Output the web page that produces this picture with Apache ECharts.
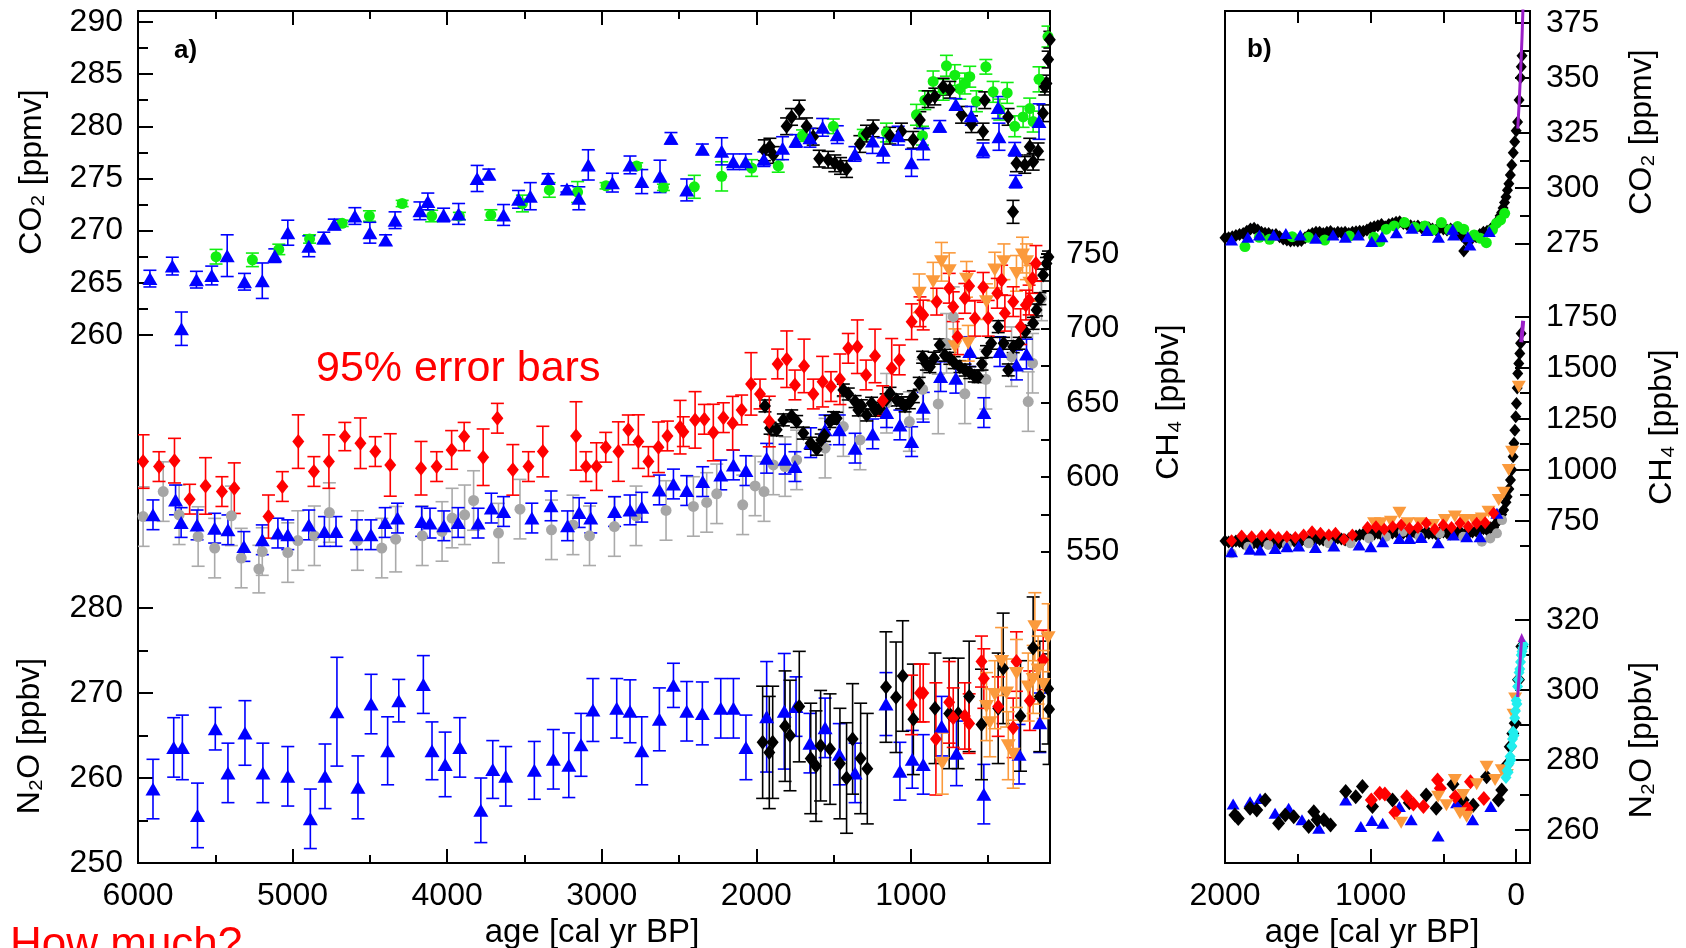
<!DOCTYPE html>
<html>
<head>
<meta charset="utf-8">
<title>CO2 CH4 N2O Holocene</title>
<script src="https://cdn.jsdelivr.net/npm/echarts@6/dist/echarts.min.js"></script>
<style>
  html, body { margin: 0; padding: 0; background: #fff; }
  #chart { width: 1686px; height: 948px; }
</style>
</head>
<body>
<div id="chart"></div>
<script>
// ---- tick labels ----
var xTicksA = [1000, 2000, 3000, 4000, 5000, 6000];
var xMinorA = [500, 1500, 2500, 3500, 4500, 5500];
var xTicksB = [0, 1000, 2000];
var xMinorB = [500, 1500];
var co2aTicks = [260, 265, 270, 275, 280, 285, 290];
var co2aMinor = [262.5, 267.5, 272.5, 277.5, 282.5, 287.5];
var ch4aTicks = [550, 600, 650, 700, 750];
var ch4aMinor = [575, 625, 675, 725];
var n2oaTicks = [250, 260, 270, 280];
var n2oaMinor = [255, 265, 275];
var co2bTicks = [275, 300, 325, 350, 375];
var co2bMinor = [287.5, 312.5, 337.5, 362.5];
var ch4bTicks = [750, 1000, 1250, 1500, 1750];
var ch4bMinor = [625, 875, 1125, 1375, 1625];
var n2obTicks = [260, 280, 300, 320];
var n2obMinor = [270, 290, 310];

// ---- panel a: [age, value, error] ----
var co2aGreen = [[5495,267.5,0.7],[5260,267.2,0.65],[5089,268.2,0.5],[4890,269.2,0.4],[4679,270.7,0.3],[4503,271.4,0.5],[4291,272.6,0.3],[4100,271.4,0.55],[3921,271.4,0.35],[3717,271.5,0.5],[3513,272.6,0.8],[3339,273.9,0.7],[3156,273.7,1.0],[2972,274.3,0.3],[2774,276.2,0.3],[2601,274.15,0.3],[2401,274.2,1.1],[2224,275.2,1.4],[2030,276.0,0.8],[1858,276.2,0.6],[1701,279.1,0.55],[1502,280.0,0.7],[1308,279.2,0.5],[1158,279.4,0.9],[964,281.1,1.0],[925,279.1,0.9],[910,282.5,0.9],[856,284.3,1.0],[791,283.5,1.0],[770,285.8,1.0],[716,284.9,1.0],[684,283.6,1.0],[651,284.1,1.0],[619,284.75,1.0],[576,282.4,1.0],[515,285.7,0.7],[468,283.3,1.0],[425,281.6,1.0],[377,283.2,1.0],[328,280.0,1.0],[274,280.9,1.0],[231,281.7,1.0],[209,280.45,1.0],[171,284.5,1.2],[113,288.6,1.0]];
var co2aBlack = [[1948,277.7,1.0],[1912,278.05,0.8],[1890,277.25,0.8],[1804,280.0,0.8],[1772,280.9,0.8],[1722,281.6,0.9],[1675,280.0,0.8],[1632,279.0,0.8],[1593,276.9,0.8],[1535,276.8,0.8],[1492,276.45,0.8],[1455,276.2,0.8],[1416,275.9,0.8],[1330,278.3,0.8],[1287,279.3,0.8],[1244,279.8,0.8],[1136,279.1,0.8],[1061,279.5,0.8],[985,278.7,0.8],[942,280.6,0.8],[888,282.6,0.8],[845,282.85,0.8],[791,283.8,0.8],[748,283.5,0.8],[672,281.1,0.8],[608,280.2,0.8],[522,282.5,0.8],[533,279.5,0.8],[371,280.9,0.8],[339,271.8,1.1],[317,276.45,0.8],[263,276.3,0.8],[231,278.05,0.8],[209,276.6,0.8],[177,277.6,0.8],[145,281.25,0.8],[134,283.8,0.8],[123,284.1,0.8],[112,286.4,0.8],[101,288.3,0.8]];
var co2aBlue = [[5923,265.4,0.8],[5778,266.6,0.85],[5719,260.6,1.6],[5622,265.3,0.8],[5523,265.7,0.9],[5423,267.6,2.0],[5311,265.1,0.8],[5196,265.2,1.7],[5115,267.6,0.65],[5031,269.8,1.2],[4895,268.5,1.0],[4798,269.3,0.55],[4730,270.6,0.5],[4597,271.4,0.8],[4500,269.8,1.0],[4398,269.1,0.5],[4337,271.0,0.8],[4176,271.9,0.85],[4125,272.8,0.8],[4023,271.5,0.65],[3926,271.6,1.0],[3806,275.0,1.25],[3730,275.4,0.5],[3635,271.5,1.0],[3538,273.0,0.85],[3462,273.3,1.3],[3347,275.0,0.45],[3225,274.0,0.3],[3148,273.1,1.1],[3087,276.3,1.45],[2931,274.6,0.9],[2817,276.3,0.85],[2741,274.7,1.15],[2623,275.2,1.55],[2552,278.85,0.55],[2450,273.9,1.05],[2349,277.8,0.5],[2224,277.6,1.3],[2149,276.6,0.75],[2069,276.6,0.75],[1951,276.85,0.7],[1830,277.9,1.1],[1744,278.6,0.6],[1653,278.9,0.9],[1571,279.9,0.85],[1476,279.2,0.85],[1362,277.35,0.7],[1248,278.6,1.2],[1179,277.7,1.2],[1082,279.1,0.9],[996,276.5,1.3],[920,278.3,1.5],[813,280.0,0.55],[709,282.1,0.55],[609,281.0,0.9],[533,277.7,0.7],[436,281.8,1.05],[430,279.0,1.3],[328,277.8,0.65],[322,274.7,0.6],[171,280.45,1.7]];

var ch4aGrey = [[5967,573.5,20],[5837,590.3,20],[5734,574.7,20],[5611,560.1,20],[5504,552.3,20],[5396,574.0,20],[5332,545.6,20],[5218,538.2,16],[5196,550.0,16],[5031,549.3,20],[4966,557.4,20],[4859,560.6,20],[4762,576.2,20],[4580,557.4,20],[4423,552.3,20],[4333,558.3,22],[4161,560.6,20],[4033,563.5,20],[3968,572.5,20],[3887,574.7,20],[3829,584.3,20],[3668,562.4,20],[3529,578.5,20],[3325,564.6,20],[3186,567.9,20],[3079,560.6,20],[2918,566.8,20],[2778,574.0,20],[2584,577.6,20],[2407,580.3,20],[2321,583.0,20],[2256,588.8,20],[2088,581.4,20],[2008,594.1,20],[1950,590.3,20],[1890,608.2,20],[1814,607.1,20],[1739,611.6,20],[1555,619.5,20],[1437,634.0,20],[1329,625.0,20],[1157,649.7,20],[1010,637.4,20],[924,659.1,20],[823,649.2,20],[769,690.0,20],[726,707.9,20],[651,656.0,20],[515,665.8,20],[349,681.0,20],[241,650.8,20],[213,676.6,20],[155,720.2,15]];
var ch4aBlue = [[5903,574.7,10],[5757,584.7,10],[5721,569.5,10],[5618,567.9,10],[5504,565.7,10],[5418,564.6,10],[5315,553.4,10],[5196,557.9,10],[5095,562.4,10],[5031,561.3,10],[4895,567.9,10],[4794,563.5,10],[4719,563.5,10],[4586,561.3,10],[4493,561.3,10],[4401,569.5,10],[4321,572.5,10],[4165,570.2,10],[4111,569.1,10],[4021,567.3,10],[3929,569.5,10],[3800,569.1,10],[3714,579.2,10],[3635,576.9,10],[3452,572.5,10],[3328,580.7,10],[3221,567.3,10],[3146,576.2,10],[3071,572.5,10],[2917,576.9,10],[2817,578.0,10],[2741,579.8,10],[2627,591.4,10],[2536,595.4,10],[2450,591.0,10],[2347,597.0,10],[2230,601.5,10],[2148,608.2,10],[2067,604.4,10],[1933,612.7,10],[1814,612.1,10],[1750,607.1,10],[1648,623.2,10],[1555,631.8,10],[1463,631.8,10],[1361,619.5,10],[1247,629.1,10],[1157,643.4,10],[1071,635.1,10],[995,623.9,10],[920,647.0,10],[808,667.6,10],[709,666.5,10],[619,684.4,10],[528,643.4,10],[424,684.4,10],[317,675.4,10],[252,682.8,10]];
var ch4aBlack = [[1944,647.9,4],[1911,632.9,4],[1868,631.8,4],[1825,638.5,4],[1771,641.2,4],[1739,637.4,4],[1696,629.6,4],[1648,622.8,4],[1609,618.8,4],[1580,625,4],[1560,628,4],[1523,637.4,4],[1500,640,4],[1480,639.6,4],[1437,658.6,4],[1405,655.9,4],[1361,650.8,4],[1340,645.2,4],[1320,648,4],[1286,641.8,4],[1254,649.7,4],[1230,645,4],[1200,646.3,4],[1160,652,4],[1135,656.4,4],[1092,651.9,4],[1060,650,4],[1038,647.9,4],[1010,650,4],[984,654.1,4],[946,663.1,4],[924,680.6,4],[900,676,4],[877,674.3,4],[850,680,4],[813,688.9,4],[780,682,4],[748,679.9,4],[720,677,4],[683,674.3,4],[650,672,4],[619,670.3,4],[590,668,4],[565,667.6,4],[540,676,4],[511,684.4,4],[480,690,4],[435,701.2,4],[400,690,4],[370,672.1,4],[338,687.7,4],[300,690,4],[260,698,4],[209,703.4,4],[187,712.4,4],[165,720,4],[144,735.9,4],[123,743.7,4],[110,748,4]];
var ch4aOrange = [[946,723.6,13],[856,731.4,13],[802,744.8,13],[752,738.8,12],[715,687.7,12],[640,733.0,12],[629,690.0,12],[511,718.0,12],[457,739.2,12],[398,744.8,12],[317,737.0,12],[278,749.3,12],[252,744.8,12],[230,730.3,12]];
var ch4aRed = [[5967,610.5,18],[5864,607.1,10],[5764,611.1,15],[5666,585.2,10],[5563,594.1,19],[5457,590.3,10],[5377,592.6,17],[5156,573.5,14.5],[5066,593.7,10],[4963,623.9,18],[4862,603.8,10],[4765,610.5,18],[4662,627.3,9.5],[4561,622.8,17],[4465,617.2,10],[4368,608.2,21],[4169,606.0,18],[4068,607.1,10],[3971,618.3,13],[3890,627.3,9.5],[3767,613.4,19],[3675,639.6,10],[3575,604.9,17],[3474,607.1,10],[3381,617.2,17],[3166,627.7,23],[3102,607.1,10],[3034,607.1,16],[2974,620.1,10],[2892,617.2,20],[2828,631.8,10],[2763,623.9,18],[2698,610.5,10],[2633,620.1,17],[2575,627.7,10],[2493,633.6,18],[2472,630.6,10],[2396,638.5,19],[2336,638.9,10],[2278,630.0,19],[2213,640.0,10],[2153,636.3,18],[2095,645.2,10],[2034,662.7,21],[1976,655.9,10],[1916,637.4,17],[1862,676.1,10],[1803,679.3,19],[1750,662.0,10],[1691,674.8,18],[1631,655.9,10],[1571,664.2,17],[1517,660.9,10],[1459,665.8,17],[1405,686.6,10],[1346,687.7,18],[1290,668.7,10],[1232,681.5,18],[1182,651.4,10],[1124,673.2,20],[1075,678.8,10],[995,704.5,12],[941,711.2,10],[920,709.0,10],[833,718.0,9],[752,727.0,10],[726,714.6,10],[698,694.4,12],[651,720.2,10],[623,728.5,10],[586,706.8,12],[532,727.6,10],[500,706.8,12],[441,723.6,10],[413,732.5,10],[392,710.2,12],[338,718.0,10],[290,701.2,12],[256,715.7,10],[235,719.1,10],[213,733.6,10],[191,743.7,12]];

var n2oaBlue = [[5903,258.7,3.5],[5769,263.6,3.5],[5713,263.6,3.8],[5615,255.6,3.8],[5500,265.8,2.5],[5418,260.6,3.5],[5308,265.3,3.8],[5192,260.6,3.5],[5031,260.2,3.5],[4885,255.2,3.5],[4790,260.2,3.8],[4713,267.8,6.4],[4577,258.9,3.7],[4492,268.7,3.5],[4385,263.2,4],[4313,269.1,2.5],[4154,271.0,3.4],[4098,263.2,3.4],[4013,261.6,3.8],[3918,263.6,3.5],[3782,256.2,3.8],[3705,261.0,3.4],[3621,260.2,3.5],[3436,260.9,3.4],[3313,262.2,3.5],[3213,261.5,3.8],[3134,263.9,3.7],[3057,268.0,3.7],[2903,268.2,3.5],[2817,267.85,3.7],[2741,263.2,4],[2627,266.9,3.7],[2536,270.9,2.6],[2450,267.85,3.5],[2349,267.6,3.7],[2230,268.2,3.5],[2148,268.2,3.5],[2067,263.6,3.8],[1933,267.2,6.5],[1819,267.85,6.8],[1743,268.4,3.5],[1653,264.1,3.5],[1555,265.9,3.5],[1463,262.8,3.6],[1361,260.6,3.5],[1161,268.7,3.7],[1071,260.8,3.4],[991,262.2,3.4],[920,261.6,3.5],[801,266.1,3.5],[705,262.9,3.8],[528,258.1,3.5],[300,262.8,3.5],[166,266.5,3.5]];
var n2oaBlack = [[1959,264.2,6.6],[1916,263.0,6.6],[1894,264.2,6.6],[1814,266.1,6.5],[1782,265.0,6.5],[1722,268.4,6.5],[1648,262.3,6.5],[1614,261.4,6.5],[1584,263.8,6.5],[1523,263.4,6.5],[1459,261.7,6.5],[1416,260.0,6.5],[1377,264.6,6.5],[1325,262.3,6.5],[1282,261.1,6.5],[1161,270.7,6.5],[1096,269.5,6.5],[1053,272.0,6.5],[984,266.9,6.5],[844,268.2,6.5],[752,267.6,6.5],[694,267.6,6.5],[623,269.6,6.5],[543,266.3,6.5],[435,268.2,6.5],[403,272.9,6.5],[291,267.3,6.5],[209,275.3,6],[166,269.6,6.5],[112,270.5,6.5],[106,268.1,6.5]];
var n2oaRed = [[995,268.6,3.5],[941,270.0,3.4],[920,270.0,3.4],[838,264.6,6.6],[752,268.9,4.8],[726,267.1,3.5],[651,267.3,3.9],[623,266.4,3.5],[543,273.7,3],[528,271.7,3.5],[435,268.4,3.5],[338,265.9,3.5],[317,273.7,3.5],[231,269.1,3.5],[144,273.9,3.5]];
var n2oaOrange = [[797,261.7,3.6],[511,268.4,4],[489,266.5,4],[457,269.8,4],[413,273.7,4],[381,270.0,4],[370,263.8,4],[338,262.8,4],[317,272.3,4],[241,270.7,4],[209,271.6,4],[198,277.8,4],[177,272.7,4],[144,271.0,4],[112,276.5,4]];

// ---- panel b: [age, value] ----
var co2bBlack = [[2000,277.5],[1975,277.5],[1950,278],[1925,278.5],[1900,279],[1875,279.5],[1850,280.5],[1825,281.5],[1800,281.8],[1775,281],[1750,280],[1725,279.6],[1700,279.5],[1675,278.8],[1650,279],[1625,278],[1600,277],[1575,276.5],[1550,276],[1525,276.3],[1500,276],[1475,276.3],[1450,277.5],[1425,278.8],[1400,279.5],[1375,280],[1350,280],[1325,279.5],[1300,280],[1275,280.3],[1250,279.5],[1225,280],[1200,279.8],[1175,280],[1150,279.5],[1125,280],[1100,280.2],[1075,280.5],[1050,280.5],[1025,281],[1000,282],[975,282.5],[950,283],[925,283.5],[900,282.5],[875,283.5],[850,284],[825,284.5],[800,284.8],[775,284],[750,283.5],[725,283],[700,282.5],[675,282.8],[650,282],[625,281.5],[600,282],[575,281.5],[550,281],[525,282],[500,281.5],[475,281],[450,281.5],[425,280.5],[400,279.5],[375,278.5],[360,271.5],[340,276],[325,277],[300,277.5],[275,278],[250,279],[225,280],[200,280.5],[175,281.5],[150,283],[130,285],[110,287.5],[100,289],[90,291],[80,293.5],[70,296],[60,299],[50,302],[40,306],[30,310.5],[20,316],[10,321],[0,326],[-10,330],[-20,340],[-30,350],[-35,355],[-40,360]];
var co2bGreen = [[1863,273.5],[1764,277.7],[1694,276.8],[1539,278.0],[1427,277.7],[1315,276.5],[1146,278.3],[978,277.7],[936,275.8],[893,281.4],[837,282.9],[767,284.4],[697,282.3],[627,282.9],[570,281.1],[514,284.4],[458,281.1],[402,282.6],[360,281.4],[289,278.8],[247,277.3],[205,275.3],[163,281.1],[135,284.1],[107,285.6],[79,288.6]];
var co2bBlue = [[1955,276.5],[1843,277.7],[1764,278.8],[1666,278.8],[1582,279.5],[1483,278.8],[1377,277.3],[1258,278.8],[1174,277.7],[1084,278.8],[992,275.8],[922,278.0],[823,279.8],[716,281.8],[612,280.8],[534,277.7],[436,281.4],[430,278.8],[332,278.0],[318,274.2],[185,280.3]];
var co2bPurple = [[-11,327],[-20,338],[-30,352],[-40,368],[-48,384]];

var ch4bBlack = [[2000,650],[1975,645],[1950,645],[1925,650],[1900,648],[1875,640],[1850,645],[1825,650],[1800,642],[1775,640],[1750,645],[1725,650],[1700,648],[1675,645],[1650,642],[1625,640],[1600,645],[1575,650],[1550,655],[1525,650],[1500,648],[1475,652],[1450,655],[1425,650],[1400,655],[1375,660],[1350,658],[1325,655],[1300,660],[1275,662],[1250,660],[1225,665],[1200,660],[1175,655],[1150,662],[1125,665],[1100,675],[1075,680],[1050,685],[1025,690],[1000,690],[975,685],[950,690],[925,680],[900,690],[875,695],[850,690],[825,695],[800,700],[775,690],[750,695],[725,690],[700,695],[675,690],[650,685],[625,690],[600,688],[575,690],[550,685],[525,690],[500,695],[475,690],[450,685],[425,690],[400,695],[375,690],[350,685],[325,690],[300,695],[275,700],[250,705],[225,710],[200,705],[175,715],[155,717],[140,735],[120,753],[100,780],[86,802],[70,840],[62,868],[50,905],[39,949],[30,1000],[21,1064],[15,1130],[9,1194],[3,1260],[-2,1325],[-7,1400],[-11,1472],[-18,1520],[-25,1570],[-30,1620],[-34,1668]];
var ch4bGrey = [[1955,590],[1840,622.5],[1702,630.7],[1575,630.7],[1425,639],[1287,639],[1137,639],[1010,663],[894,671.6],[779,696],[664,671.6],[525,688],[363,671.6],[236,647],[178,663],[132,688],[97,753]];
var ch4bBlue = [[1955,598],[1829,609.5],[1759,606],[1656,614],[1575,622.5],[1494,626],[1379,619],[1252,626],[1079,630.7],[998,622.5],[917,647],[802,663],[733,663],[652,668],[536,642],[432,680],[340,671.6],[248,671.6],[132,786]];
var ch4bOrange = [[976,737],[929,737],[860,745],[802,789],[745,737],[664,737],[571,728.8],[490,753],[421,770],[352,753],[294,753],[236,761],[190,794],[120,851],[86,887],[51,998],[28,1088],[-18,1407]];
var ch4bRed = [[2001,658.5],[1955,652],[1886,675],[1817,671.6],[1748,675],[1690,680],[1633,668],[1575,671.6],[1517,668],[1460,680],[1402,696],[1344,688],[1287,680],[1241,688],[1183,658.5],[1125,680],[1021,717],[963,720.6],[906,707.5],[848,720.6],[790,728.8],[733,712],[675,717],[617,737],[559,707.5],[502,728.8],[444,717],[386,737],[329,720.6],[271,737],[213,740],[155,786]];
var ch4bPurple = [[-35,1625],[-42,1680],[-48,1730]];

var n2obBlack = [[1932,264.3],[1909,263.3],[1828,266.2],[1782,265.7],[1724,268.6],[1632,261.9],[1586,264.3],[1528,263.8],[1425,261.0],[1390,265.2],[1367,262.9],[1321,262.9],[1275,261.4],[1171,271.0],[1102,269.5],[1056,272.4],[987,266.7],[849,268.6],[734,267.8],[618,270.0],[549,266.2],[434,273.1],[364,268.6],[295,267.1],[203,275.2],[122,268.6],[99,271.4],[64,278.6],[41,283.8],[23,287.6],[7,290.5],[-16,302.9],[-39,312.4]];
var n2obBlue = [[1944,267.4],[1828,268.1],[1759,269.0],[1656,264.8],[1563,266.2],[1471,262.9],[1356,260.5],[1171,268.6],[1067,261.0],[991,262.7],[917,261.9],[802,266.7],[721,262.9],[536,258.3],[409,267.8],[299,262.9],[174,266.7]];
var n2obRed = [[995,268.6],[937,270.5],[902,270.3],[833,265.0],[752,269.5],[706,267.4],[637,266.7],[540,274.3],[521,271.9],[418,269.5],[337,266.2],[314,273.8],[222,269.0]];
var n2obOrange = [[790,262.1],[536,269.5],[479,267.1],[421,274.3],[386,264.8],[363,270.0],[340,263.8],[271,273.1],[203,278.1],[145,274.3],[99,277.1],[64,275.7],[18,292.9],[7,297.6]];
var n2obCyan = [[70,275],[62,277],[55,276.5],[48,279],[42,281],[36,280],[30,284],[25,286],[20,288],[15,287],[10,292],[5,294],[0,297],[-5,296],[-10,301],[-15,303],[-20,305],[-25,306],[-30,308],[-35,310],[-40,311],[-45,312],[-50,313]];
var n2obPurple = [[-10,298],[-20,304],[-30,310],[-38,315]];

var FONT = '"Liberation Sans", Arial, sans-serif';
var chart = echarts.init(document.getElementById('chart'));

function fmt(v) { return String(v); }

// x axis: major labelled ticks or unlabelled minor ticks
function xAx(grid, min, max, ticks, len, pos, labels) {
    return {
        type: 'value', gridIndex: grid, min: min, max: max, inverse: true, position: pos,
        axisLine: { show: false, onZero: false },
        splitLine: { show: false },
        axisTick: { show: true, inside: true, length: len, customValues: ticks, lineStyle: { color: '#000', width: 2 } },
        axisLabel: { show: labels, customValues: ticks, margin: 17, fontSize: 32, color: '#000', fontFamily: FONT, formatter: fmt }
    };
}
function yAx(grid, min, max, ticks, len, pos, labels, margin) {
    return {
        type: 'value', gridIndex: grid, min: min, max: max, position: pos,
        axisLine: { show: false, onZero: false },
        splitLine: { show: false },
        axisTick: { show: true, inside: true, length: len, customValues: ticks, lineStyle: { color: '#000', width: 2 } },
        axisLabel: { show: labels, customValues: ticks, margin: margin, fontSize: 32, color: '#000', fontFamily: FONT, formatter: fmt }
    };
}

var xAxes = [
    xAx(0, 100, 6000, xTicksA, 14, 'bottom', true),
    xAx(0, 100, 6000, xMinorA, 8, 'bottom', false),
    xAx(0, 100, 6000, xTicksA, 14, 'top', false),
    xAx(0, 100, 6000, xMinorA, 8, 'top', false),
    xAx(1, -95, 2000, xTicksB, 14, 'bottom', true),
    xAx(1, -95, 2000, xMinorB, 9, 'bottom', false),
    xAx(1, -95, 2000, xTicksB.concat(xMinorB), 12, 'top', false)
];
var yAxes = [
    yAx(0, 209.39, 291.05, co2aTicks, 15, 'left', true, 15),
    yAx(0, 209.39, 291.05, co2aMinor, 10, 'left', false, 15),
    yAx(0, 340.6, 913.4, ch4aTicks, 9, 'right', true, 16),
    yAx(0, 340.6, 913.4, ch4aMinor, 9, 'right', false, 16),
    yAx(0, 250, 350.24, n2oaTicks, 15, 'left', true, 15),
    yAx(0, 250, 350.24, n2oaMinor, 10, 'left', false, 15),
    yAx(1, -5.9, 380.3, co2bTicks, 15, 'right', true, 16),
    yAx(1, -5.9, 380.3, co2bMinor, 10, 'right', false, 16),
    yAx(1, -927.9, 3248.5, ch4bTicks, 15, 'right', true, 16),
    yAx(1, -927.9, 3248.5, ch4bMinor, 10, 'right', false, 16),
    yAx(1, 250.57, 494, n2obTicks, 15, 'right', true, 16),
    yAx(1, 250.57, 494, n2obMinor, 10, 'right', false, 16)
];

var series = [];
function errBars(data, xi, yi, color) {
    series.push({
        type: 'custom', xAxisIndex: xi, yAxisIndex: yi, clip: true, silent: true, z: 2,
        data: data,
        encode: { x: 0, y: 1 },
        renderItem: function (params, api) {
            var x = api.value(0), y = api.value(1), e = api.value(2);
            var t = api.coord([x, y + e]), b = api.coord([x, y - e]);
            var w = 6.5, st = { stroke: color, lineWidth: 1.6 };
            return {
                type: 'group', children: [
                    { type: 'line', shape: { x1: t[0], y1: t[1], x2: b[0], y2: b[1] }, style: st },
                    { type: 'line', shape: { x1: t[0] - w, y1: t[1], x2: t[0] + w, y2: t[1] }, style: st },
                    { type: 'line', shape: { x1: b[0] - w, y1: b[1], x2: b[0] + w, y2: b[1] }, style: st }
                ]
            };
        }
    });
}
function points(data, xi, yi, color, symbol, size, rot) {
    series.push({
        type: 'scatter', xAxisIndex: xi, yAxisIndex: yi, data: data, z: 3,
        symbol: symbol, symbolSize: size, symbolRotate: rot || 0,
        itemStyle: { color: color, opacity: 1 }, silent: true
    });
}

var BLUE = '#0000ff', GREEN = '#11ee11', BLACK = '#000000', RED = '#ff0000',
    GREY = '#a6a6a6', ORANGE = '#fb9a3c', CYAN = '#22eeee', PURPLE = '#9b1fc8';
var TRI = [15, 13], DIA = [12, 15], DTRI = [15, 13];

// panel a CO2
errBars(co2aGreen, 0, 0, GREEN);  points(co2aGreen, 0, 0, GREEN, 'circle', 11);
errBars(co2aBlack, 0, 0, BLACK);  points(co2aBlack, 0, 0, BLACK, 'diamond', DIA);
errBars(co2aBlue, 0, 0, BLUE);    points(co2aBlue, 0, 0, BLUE, 'triangle', TRI);
// panel a CH4
errBars(ch4aGrey, 0, 2, '#aaaaaa'); points(ch4aGrey, 0, 2, GREY, 'circle', 11);
errBars(ch4aBlue, 0, 2, BLUE);    points(ch4aBlue, 0, 2, BLUE, 'triangle', TRI);
errBars(ch4aBlack, 0, 2, BLACK);  points(ch4aBlack, 0, 2, BLACK, 'diamond', DIA);
errBars(ch4aOrange, 0, 2, ORANGE); points(ch4aOrange, 0, 2, ORANGE, 'triangle', DTRI, 180);
errBars(ch4aRed, 0, 2, RED);      points(ch4aRed, 0, 2, RED, 'diamond', DIA);
// panel a N2O
errBars(n2oaBlue, 0, 4, BLUE);    points(n2oaBlue, 0, 4, BLUE, 'triangle', TRI);
errBars(n2oaBlack, 0, 4, BLACK);  points(n2oaBlack, 0, 4, BLACK, 'diamond', DIA);
errBars(n2oaRed, 0, 4, RED);      points(n2oaRed, 0, 4, RED, 'diamond', DIA);
errBars(n2oaOrange, 0, 4, ORANGE); points(n2oaOrange, 0, 4, ORANGE, 'triangle', DTRI, 180);

// panel b
var TRIb = [13, 11], DIAb = [11, 13], DIAn = [13, 15];
points(co2bBlack, 4, 6, BLACK, 'diamond', DIAb);
points(co2bGreen, 4, 6, GREEN, 'circle', 11);
points(co2bBlue, 4, 6, BLUE, 'triangle', TRIb);
series.push({ type: 'line', xAxisIndex: 4, yAxisIndex: 6, data: co2bPurple, showSymbol: false, clip: true,
    lineStyle: { color: PURPLE, width: 3 }, z: 4, silent: true });

points(ch4bBlack, 4, 8, BLACK, 'diamond', DIAb);
points(ch4bGrey, 4, 8, GREY, 'circle', 10);
points(ch4bBlue, 4, 8, BLUE, 'triangle', TRIb);
points(ch4bOrange, 4, 8, ORANGE, 'triangle', [14, 12], 180);
points(ch4bRed, 4, 8, RED, 'diamond', DIAb);
series.push({ type: 'line', xAxisIndex: 4, yAxisIndex: 8, data: ch4bPurple, showSymbol: false,
    lineStyle: { color: PURPLE, width: 4 }, z: 4, silent: true });

points(n2obBlue, 4, 10, BLUE, 'triangle', TRIb);
points(n2obBlack, 4, 10, BLACK, 'diamond', DIAn);
points(n2obRed, 4, 10, RED, 'diamond', DIAn);
points(n2obOrange, 4, 10, ORANGE, 'triangle', [14, 12], 180);
points(n2obCyan, 4, 10, CYAN, 'diamond', DIAb);
series.push({ type: 'line', xAxisIndex: 4, yAxisIndex: 10, data: n2obPurple, showSymbol: false,
    lineStyle: { color: PURPLE, width: 3 }, z: 4, silent: true });
points([n2obPurple[n2obPurple.length - 1]], 4, 10, PURPLE, 'triangle', [8, 9]);

function vText(x, y, text) {
    return { type: 'text', x: x, y: y, rotation: Math.PI / 2, z: 10,
        style: { text: text, font: '32px ' + FONT, fill: '#000', align: 'center', verticalAlign: 'middle' } };
}
function hText(x, y, text, font, color, align) {
    return { type: 'text', x: x, y: y, z: 10,
        style: { text: text, font: font, fill: color, align: align || 'left', verticalAlign: 'top' } };
}

var option = {
    animation: false,
    backgroundColor: '#fff',
    grid: [
        { left: 138, top: 11, width: 912, height: 852, show: true, borderColor: '#000', borderWidth: 2, backgroundColor: 'transparent' },
        { left: 1225, top: 11, width: 305, height: 852, show: true, borderColor: '#000', borderWidth: 2, backgroundColor: 'transparent' }
    ],
    xAxis: xAxes,
    yAxis: yAxes,
    series: series,
    graphic: [
        vText(32, 172, 'CO\u2082 [ppmv]'),
        vText(30, 736, 'N\u2082O [ppbv]'),
        vText(1169, 402, 'CH\u2084 [ppbv]'),
        vText(1642, 132, 'CO\u2082 [ppmv]'),
        vText(1662, 427, 'CH\u2084 [ppbv]'),
        vText(1642, 740, 'N\u2082O [ppbv]'),
        hText(592, 916, 'age [cal yr BP]', '33px ' + FONT, '#000', 'center'),
        hText(1372, 916, 'age [cal yr BP]', '33px ' + FONT, '#000', 'center'),
        hText(174, 38, 'a)', 'bold 26px ' + FONT, '#000'),
        hText(1247, 37, 'b)', 'bold 26px ' + FONT, '#000'),
        hText(316, 348, '95% error bars', '43px ' + FONT, '#ff0000'),
        hText(10, 924, 'How much?', '44px ' + FONT, '#ff0000')
    ]
};
chart.setOption(option);
</script>
</body>
</html>
